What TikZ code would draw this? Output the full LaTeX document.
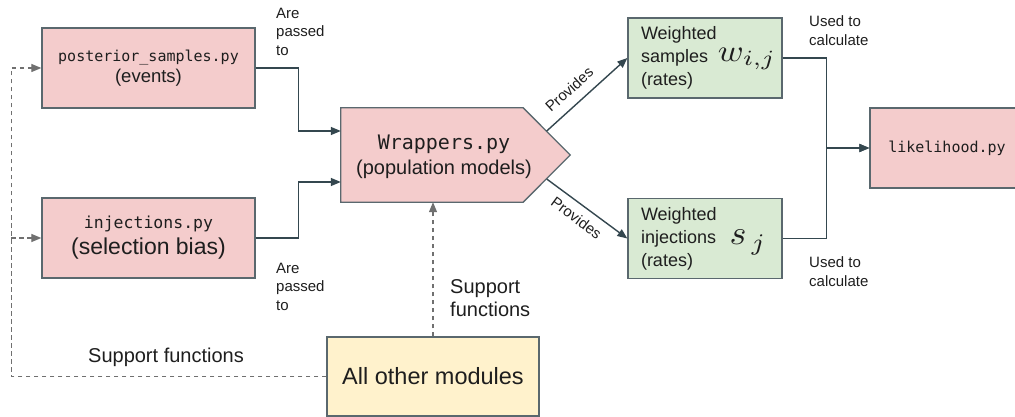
\RequirePackage{fix-cm}
\documentclass[tikz,border=0pt]{standalone}
\usepackage{fontspec}
\usepackage{graphicx}
\setmainfont{Liberation Sans}
\newfontfamily\codefont{DejaVu Sans Mono}
\usetikzlibrary{arrows.meta,calc,backgrounds}

\definecolor{pinkfill}{HTML}{F4CCCC}
\definecolor{greenfill}{HTML}{D9EAD3}
\definecolor{yellowfill}{HTML}{FFF2CC}
\definecolor{edgecol}{HTML}{5A686E}
\definecolor{wire}{HTML}{34474F}
\definecolor{dashwire}{HTML}{707070}
\definecolor{ink}{HTML}{1E1E1E}

\newcommand{\fs}[2]{\fontsize{#1}{#2}\selectfont}

\begin{document}
\begin{tikzpicture}[x=1pt,y=-1pt,
  every node/.style={text=ink},
  module/.style={draw=edgecol, line width=1.3pt, fill=pinkfill, inner sep=0pt,
    align=center, minimum width=213, minimum height=80},
  ratebox/.style={draw=edgecol, line width=1.3pt, fill=greenfill, inner xsep=13pt,
    inner ysep=0pt, text width=128pt, align=left, minimum height=80,
    font=\fs{18}{23}},
  otherbox/.style={draw=edgecol, line width=1.3pt, fill=yellowfill, inner sep=0pt,
    minimum width=212, minimum height=79, font=\fs{23.5}{28}},
  flow/.style={draw=wire, line width=1.4pt, -{Triangle[length=10pt,width=8pt]}},
  support/.style={draw=dashwire, line width=1.2pt, dash pattern=on 4.5pt off 3.5pt,
    -{Triangle[length=10pt,width=8pt]}},
  note/.style={font=\fs{15}{18.5}, align=left, inner sep=0pt, anchor=north west},
  provides/.style={font=\fs{15}{18}, sloped, inner xsep=0pt},
]
\useasboundingbox (0,0) rectangle (1015,417);

% input modules
\node[module, font=\fs{18.5}{21}] (post) at (148.5,68)
  {{\codefont\fs{15}{21}posterior\_samples.py}\\(events)};
\node[module, font=\fs{23}{26}] (inj) at (148.5,238)
  {{\codefont\fs{16.5}{26}injections.py}\\(selection bias)};

% population model wrapper: body node, pointed outline drawn behind it
\node[minimum width=182, minimum height=94, inner sep=0pt,
  label={[xshift=12pt, yshift=-2pt, align=center, font=\fs{20}{24.5}]center:{\codefont Wrappers.py}\\(population models)}]
  (wr) at (432,155) {};
\begin{scope}[on background layer]
  \filldraw[draw=edgecol, line width=1.3pt, fill=pinkfill, line join=miter]
    (wr.north west) -- (wr.north east) -- ($(wr.east)+(47,0)$)
    -- (wr.south east) -- (wr.south west) -- cycle;
\end{scope}

% weighted rates
\node[ratebox, label={[xshift=42pt, yshift=-1pt]center:{\scalebox{3.5}[3.1]{\fs{10}{10}$w_{i,j}$}}}] (g1) at (705,58)
  {Weighted\\samples\\(rates)};
\node[ratebox, label={[xshift=43pt, yshift=-4pt]center:{\scalebox{3.6}[3.4]{\fs{10}{10}$s_{\,j}$}}}] (g2) at (705,238.5)
  {Weighted\\injections\\(rates)};

% likelihood
\node[module, minimum width=154] (lik) at (947,148)
  {\codefont\fs{15}{20}likelihood.py};

% helper modules
\node[otherbox] (oth) at (433,376.5) {All other modules};

% data flow
\draw[flow] (post.east) -- ++(43,0) |- ($(wr.west)+(0,-24)$);
\draw[flow] (inj.east) -- ++(43,0) |- ($(wr.west)+(0,27)$);
\draw[flow] ($(wr.east)+(23.5,-24)$) -- node[provides, pos=0.41, anchor=south, inner ysep=9.5pt] {Provides} (g1.west);
\draw[flow] ($(wr.east)+(23.5,24)$) -- node[provides, pos=0.47, anchor=north, inner ysep=7.5pt] {Provides} (g2.west);
\draw[flow] (g1.east) -- ++(44,0) |- (lik.west);
\draw[flow] (g2.east) -- ++(44,0) |- (lik.west);

% support functions
\draw[support] (oth.west) -| ($(post.west)+(-30,0)$) -- (post.west);
\draw[support] ($(inj.west)+(-30,0)$) -- (inj.west);
\draw[support] (oth.north) -- (oth.north |- wr.south);

% labels
\node[note] (pass1) at (276,7.5) {Are\\passed\\to};
\node[note] (pass2) at (276,262.5) {Are\\passed\\to};
\node[note] (calc1) at (809,15.5) {Used to\\calculate};
\node[note] (calc2) at (809,256.5) {Used to\\calculate};
\node[font=\fs{20}{23}, inner sep=0pt] (sup1) at (166,357) {Support functions};
\node[font=\fs{20}{23}, align=left, inner sep=0pt, anchor=north west] (sup2) at (450,279.5) {Support\\functions};
\end{tikzpicture}
\end{document}
